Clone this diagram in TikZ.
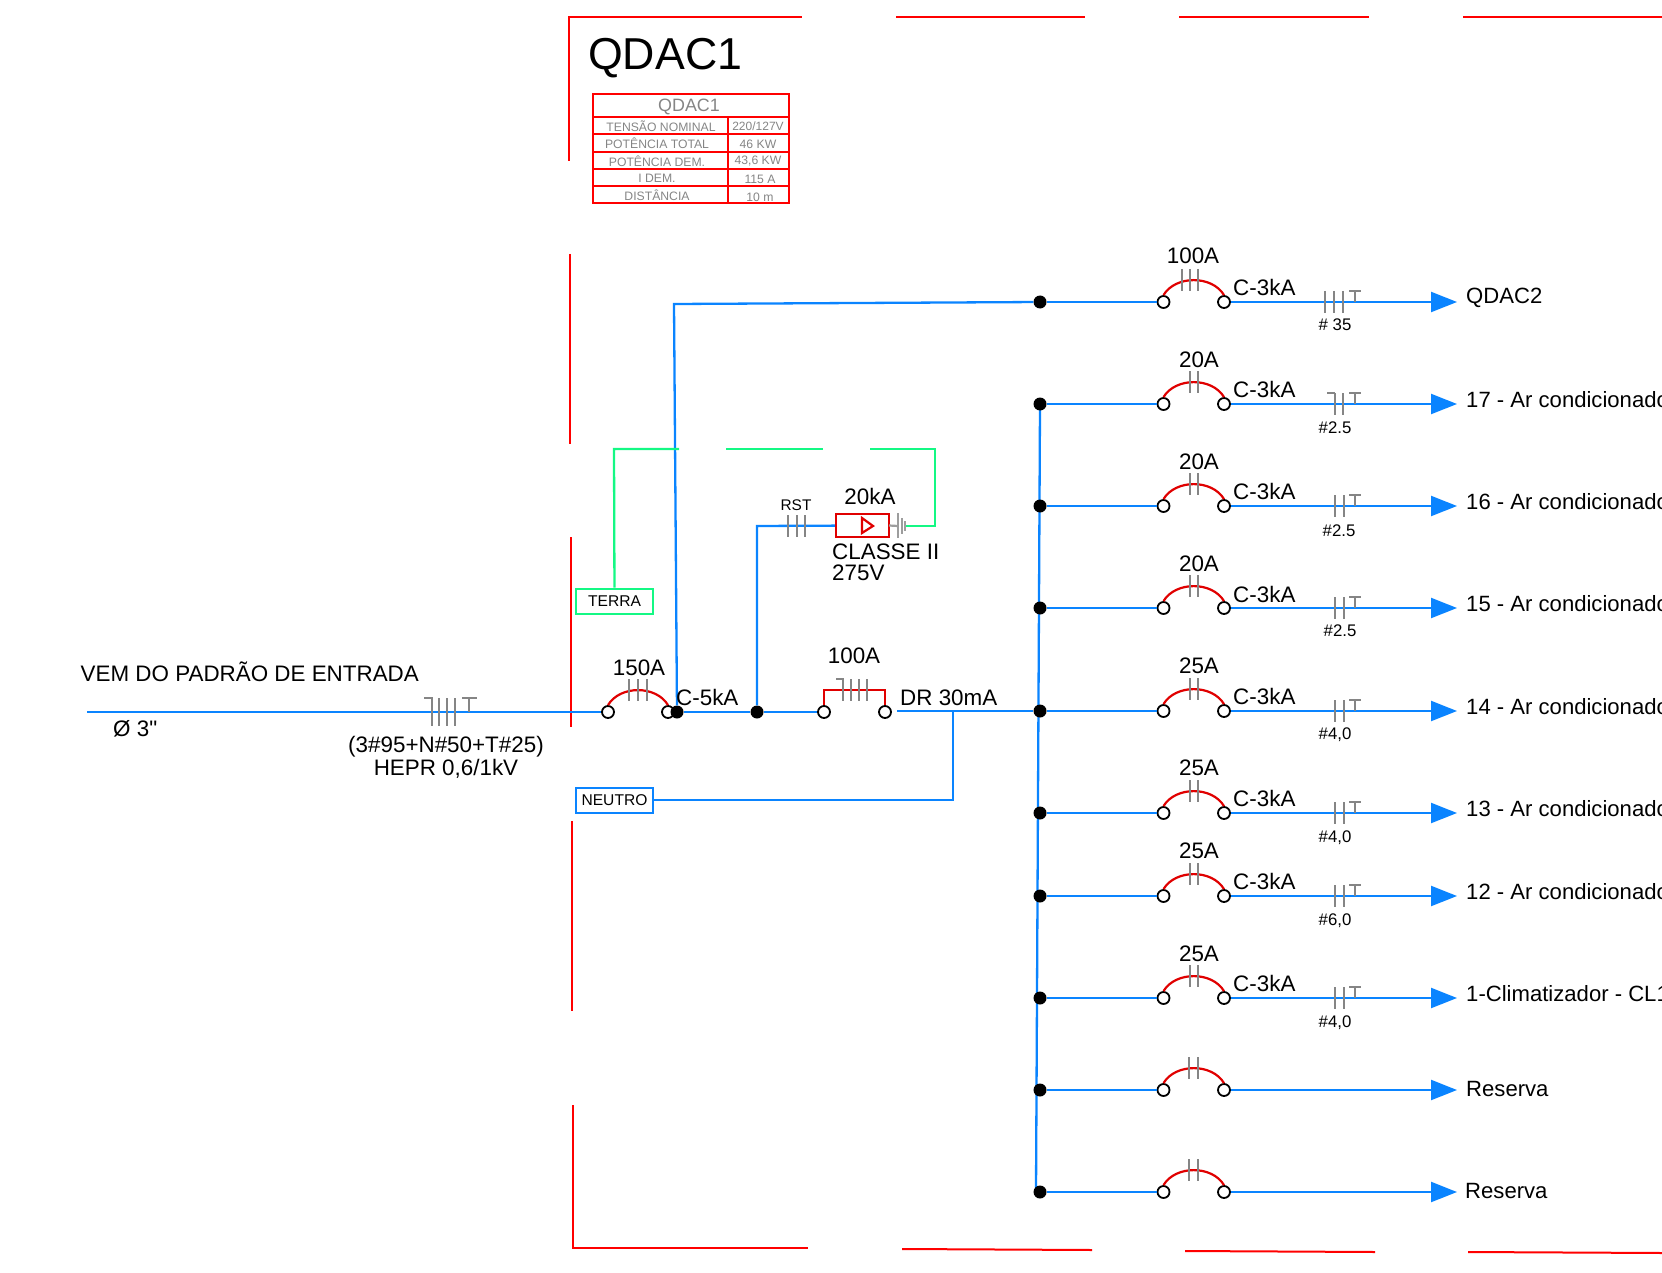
\documentclass[tikz,border=0pt]{standalone}
\usepackage{fontspec}
\setmainfont{Liberation Sans}
\newfontfamily\aspas{Liberation Sans}
\usepackage{tikz}
\usetikzlibrary{arrows.meta}

\definecolor{fiofase}{HTML}{0A84FF}
\definecolor{fioterra}{HTML}{14F884}
\definecolor{cinzacabo}{HTML}{858585}
\definecolor{vermdisj}{HTML}{E00000}

\newcommand{\tam}[1]{\fontsize{#1}{#1}\selectfont}

% one outgoing circuit: name, y, text, text x, text dy
\newcommand{\ramal}[5]{
	\node[busdot] (b#1) at (1040,#2) {};
	\node[terminal] (e#1) at (1163.5,#2) {};
	\node[terminal] (s#1) at (1224,#2) {};
	\coordinate (f#1) at (1457,#2);
	\draw[fase] (b#1) -- (e#1);
	\draw[saida] (s#1) -- (f#1);
	\draw[disj] (e#1.north) .. controls +(12,-20) and +(-12,-20) .. (s#1.north);
	\node[texto, anchor=base west, font=\tam{22.1}] (t#1) at (#4,#2+#5) {#3};
}
% two or three bars on a breaker
\newcommand{\barras}[2]{
	\foreach \bx in {#2} {\draw[cabo] (\bx,#1-33) -- (\bx,#1-11);}
}
% cable mark with earth bar: y, bars, gauge name, gauge text, gauge x, dy
\newcommand{\bitola}[6]{
	\foreach \bx in {#2} {\draw[cabo] (\bx,#1-11) -- (\bx,#1+11);}
	\draw[cabo] (1349,#1-11) -- (1361,#1-11) (1355,#1-11) -- (1355,#1);
	\node[textop, anchor=base] (#3) at (#5,#1+#6) {#4};
}

\begin{document}
\begin{tikzpicture}[
		x=1pt, y=-1pt,
		texto/.style={anchor=base, inner sep=0pt, font=\tam{22.4}},
		textop/.style={inner sep=0pt, font=\tam{16.8}},
		textotab/.style={anchor=base, inner sep=0pt, text=cinzacabo, font=\tam{12.2}},
		quadro/.style={red, line width=2pt},
		tabela/.style={red, line width=2pt},
		fase/.style={fiofase, line width=2.3pt},
		terra/.style={fioterra, line width=2.3pt},
		saida/.style={fase, -{Triangle[length=26pt,width=20pt]}},
		disj/.style={vermdisj, line width=2.2pt},
		cabo/.style={cinzacabo, line width=2.2pt},
		terminal/.style={circle, draw, fill=white, line width=1.8pt, inner sep=0pt, minimum size=12pt},
		busdot/.style={circle, fill=black, inner sep=0pt, minimum size=13pt},
		caixa/.style={draw, line width=2pt, fill=white, inner sep=0pt, minimum width=77pt, minimum height=25pt, font=\tam{15.6}}
	]
	\clip (0,0) rectangle (1662,1273);

	% panel outline
	\draw[quadro] (569,161) -- (569,17) -- (802,17);
	\draw[quadro] (896,17) -- (1085,17);
	\draw[quadro] (1179,17) -- (1369,17);
	\draw[quadro] (1463,17) -- (1662,17);
	\draw[quadro] (570,254) -- (570,444);
	\draw[quadro] (571,537) -- (571,727);
	\draw[quadro] (572,821) -- (572,1011);
	\draw[quadro] (573,1105) -- (573,1248) -- (808,1248);
	\draw[quadro] (902,1249) -- (1092,1250);
	\draw[quadro] (1185,1251) -- (1375,1252);
	\draw[quadro] (1468,1252) -- (1662,1253);

	% title and table
	\node[texto, anchor=base west, font=\tam{44.7}] (titulo) at (588,70) {QDAC1};
	\draw[tabela] (593,94) rectangle (789,203);
	\draw[tabela] (593,117) -- (789,117);
	\draw[tabela] (593,134) -- (789,134);
	\draw[tabela] (593,152) -- (789,152);
	\draw[tabela] (593,169) -- (789,169);
	\draw[tabela] (593,186) -- (789,186);
	\draw[tabela] (728,117) -- (728,203);
	\node[textotab, font=\tam{17.9}] (tabtitulo) at (689,112) {QDAC1};
	\node[textotab] (tab1a) at (661,131.5) {TENSÃO NOMINAL};
	\node[textotab, font=\tam{12}] (tab1b) at (758,130.5) {220/127V};
	\node[textotab] (tab2a) at (657,149) {POTÊNCIA TOTAL};
	\node[textotab] (tab2b) at (758,148.5) {46 KW};
	\node[textotab] (tab3a) at (657,167) {POTÊNCIA DEM.};
	\node[textotab] (tab3b) at (758,164.5) {43,6 KW};
	\node[textotab] (tab4a) at (657,183) {I DEM.};
	\node[textotab] (tab4b) at (760,184) {115 A};
	\node[textotab] (tab5a) at (657,201) {DISTÂNCIA};
	\node[textotab] (tab5b) at (760,201.5) {10 m};

	% nodes of the main line
	\coordinate (entrada) at (87,712);
	\node[terminal] (t150e) at (608,712) {};
	\node[terminal] (t150s) at (668,712) {};
	\node[busdot] (no1) at (677,712) {};
	\node[busdot] (no2) at (757,712) {};
	\node[terminal] (t100e) at (824,712) {};
	\node[terminal] (t100s) at (885,712) {};
	\coordinate (drsaida) at (897,711);
	\coordinate (cantoqdac) at (674,304);
	\coordinate (cantodps) at (757,526);
	\coordinate (cantoneutro) at (953,800);
	\coordinate (tneutro) at (953,711);
	\node[draw=fioterra, caixa] (terrabox) at (614.5,601) {TERRA};
	\node[draw=fiofase, caixa] (neutrobox) at (614.5,800) {NEUTRO};
	\node[draw=vermdisj, line width=2.2pt, fill=white, inner sep=0pt, minimum width=53pt, minimum height=23pt] (dps) at (862.5,525.5) {};

	% bus, under the dots
	\coordinate (businicio) at (1040,404);
	\coordinate (busfim) at (1036,1192);
	\draw[fase] (businicio) -- (busfim);

	% outgoing circuits
	\ramal{qdac}{302}{QDAC2}{1466}{2}
	\ramal{a}{404}{17 - Ar condicionado}{1466}{3}
	\ramal{b}{506}{16 - Ar condicionado}{1466}{3}
	\ramal{c}{608}{15 - Ar condicionado}{1466}{3}
	\ramal{d}{711}{14 - Ar condicionado}{1466}{3}
	\ramal{e}{813}{13 - Ar condicionado}{1466}{3}
	\ramal{f}{896}{12 - Ar condicionado}{1466}{3}
	\ramal{g}{998}{1-Climatizador - CL1}{1466}{3}
	\ramal{h}{1090}{Reserva}{1466}{6}
	\ramal{i}{1192}{Reserva}{1465}{6}

	% bars on the breakers
	\barras{302}{1182,1190,1198}
	\barras{404}{1190,1198}
	\barras{506}{1190,1198}
	\barras{608}{1190,1198}
	\barras{711}{1190,1198}
	\barras{813}{1190,1198}
	\barras{896}{1190,1198}
	\barras{998}{1190,1198}
	\barras{1090}{1189,1198}
	\barras{1192}{1189,1198}

	% cable marks
	\bitola{302}{1325,1334,1343}{gqdac}{\# 35}{1335}{28}
	\bitola{404}{1335,1343}{ga}{\#2.5}{1335}{29}
	\draw[cabo] (1327,393) -- (1335,393);
	\bitola{506}{1335,1344}{gb}{\#2.5}{1339}{30}
	\bitola{608}{1335,1344}{gc}{\#2.5}{1340}{28}
	\bitola{711}{1335,1344}{gd}{\#4,0}{1335}{28}
	\bitola{813}{1335,1344}{ge}{\#4,0}{1335}{29}
	\bitola{896}{1335,1344}{gf}{\#6,0}{1335}{29}
	\bitola{998}{1335,1344}{gg}{\#4,0}{1335}{29}

	% arrows - feeders
	\draw[fase] (entrada) -- (t150e);
	\draw[fase] (no1) -- (no2);
	\draw[fase] (no2) -- (t100e);
	\draw[fase] (no1) -- (cantoqdac) -- (bqdac);
	\draw[fase] (no2) -- (cantodps) -- (dps);
	\draw[fase] (drsaida) -- (bd);
	\draw[fase] (neutrobox) -- (cantoneutro) -- (tneutro);
	\draw[terra] (terrabox) -- (614,449) -- (679,449);
	\draw[terra] (726,449) -- (823,449);
	\draw[terra] (870,449) -- (935,449) -- (935,526) -- (905,526);

	% breakers of the main line
	\draw[disj] (t150e.north) .. controls +(12,-20) and +(-12,-20) .. (t150s.north);
	\draw[disj] (t100e.north) -- (824,690) -- (885,690) -- (t100s.north);
	\draw[cabo] (629,679) -- (629,701);
	\draw[cabo] (638,679) -- (638,701);
	\draw[cabo] (647,679) -- (647,701);
	\draw[cabo] (836,679) -- (843,679) -- (843,701);
	\draw[cabo] (851,679) -- (851,701);
	\draw[cabo] (859,679) -- (859,701);
	\draw[cabo] (867,679) -- (867,701);

	% incoming cable mark
	\draw[cabo] (424,698) -- (432,698) -- (432,726);
	\draw[cabo] (439,698) -- (439,726);
	\draw[cabo] (447,698) -- (447,726);
	\draw[cabo] (455,698) -- (455,726);
	\draw[cabo] (462,698) -- (477,698);
	\draw[cabo] (469,698) -- (469,712);

	% surge protector
	\draw[cabo] (788,515) -- (788,537);
	\draw[cabo] (797,515) -- (797,537);
	\draw[cabo] (805,515) -- (805,537);
	\draw[disj] (862,518) -- (873,526) -- (862,533) -- cycle;
	\draw[cabo, cinzacabo!80] (dps) ++(26.5,0) -- (898,526);
	\draw[cabo, cinzacabo!80] (898,513) -- (898,538);
	\draw[cabo, cinzacabo!80] (902,518) -- (902,534);
	\draw[cabo, cinzacabo!80] (905,521) -- (905,531);

	% labels
	\node[texto, anchor=base west] (vem) at (80.5,681) {VEM DO PADRÃO DE ENTRADA};
	\node[texto, anchor=base west] (diam) at (113,736) {Ø 3{\aspas"}};
	\node[texto] (cabo1) at (446,752) {(3\#95+N\#50+T\#25)};
	\node[texto] (cabo2) at (446,775) {HEPR 0,6/1kV};
	\node[texto] (l150) at (639,675) {150A};
	\node[texto, anchor=base west] (c5ka) at (676,705) {C-5kA};
	\node[texto] (l100) at (854,663) {100A};
	\node[texto, anchor=base west] (dr30) at (900,705) {DR 30mA};
	\node[textop, anchor=base, font=\tam{15.4}] (rst) at (796,510) {RST};
	\node[texto] (l20ka) at (870,504) {20kA};
	\node[texto, anchor=base west] (classe) at (832,559) {CLASSE II};
	\node[texto, anchor=base west] (v275) at (832,580) {275V};

	\node[texto] (aqdac) at (1193,264) {100A};
	\node[texto] (aa) at (1199,367) {20A};
	\node[texto] (ab) at (1199,469) {20A};
	\node[texto] (ac) at (1199,571) {20A};
	\node[texto] (ad) at (1199,673) {25A};
	\node[texto] (ae) at (1199,775) {25A};
	\node[texto] (af) at (1199,858) {25A};
	\node[texto] (ag) at (1199,961) {25A};
	\node[texto, anchor=base west] (cqdac) at (1233,295) {C-3kA};
	\node[texto, anchor=base west] (ca) at (1233,397) {C-3kA};
	\node[texto, anchor=base west] (cb) at (1233,499) {C-3kA};
	\node[texto, anchor=base west] (cc) at (1233,602) {C-3kA};
	\node[texto, anchor=base west] (cd) at (1233,704) {C-3kA};
	\node[texto, anchor=base west] (ce) at (1233,806) {C-3kA};
	\node[texto, anchor=base west] (cf) at (1233,889) {C-3kA};
	\node[texto, anchor=base west] (cg) at (1233,991) {C-3kA};
\end{tikzpicture}
\end{document}
